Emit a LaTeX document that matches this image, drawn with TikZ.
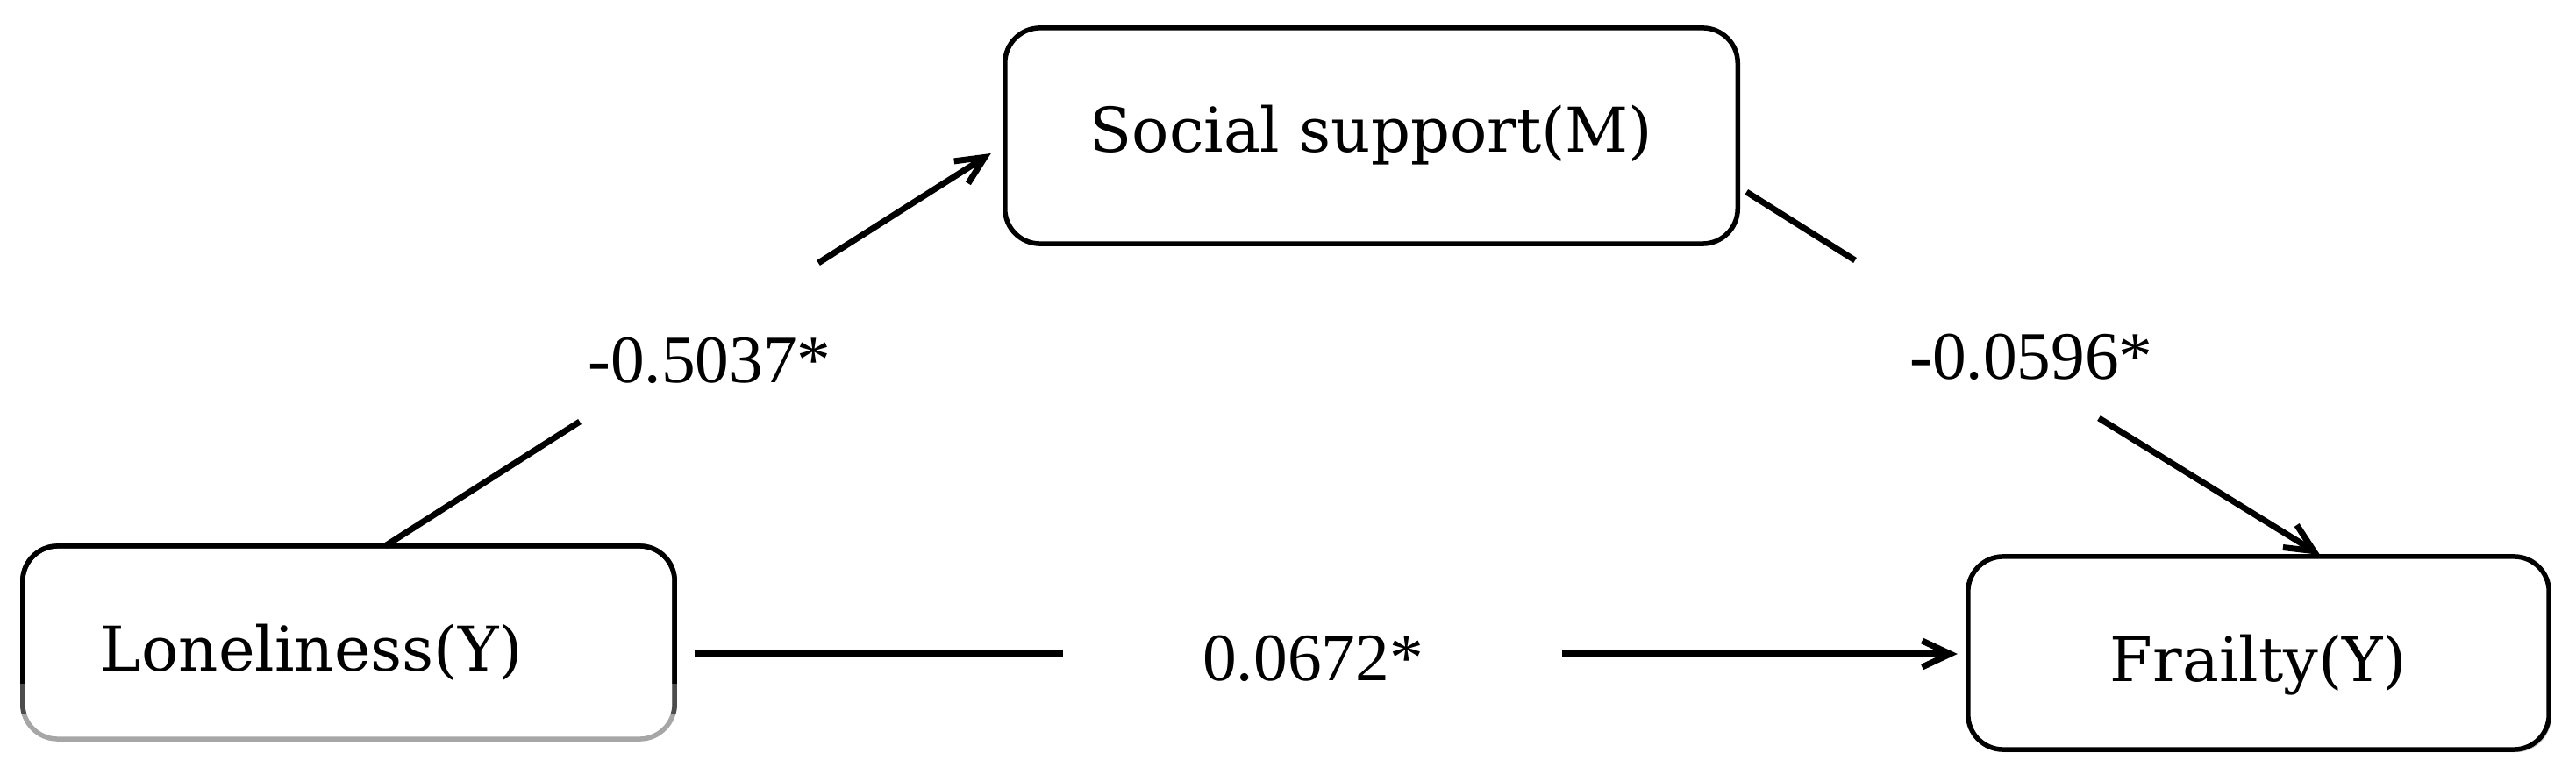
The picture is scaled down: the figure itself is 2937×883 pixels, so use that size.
\documentclass[tikz,border=0pt]{standalone}
\usepackage{fontspec}
\setmainfont{Liberation Serif}
\newfontfamily\boxfont{DejaVu Serif}
\usetikzlibrary{arrows.meta,shadows}

\begin{document}
\begin{tikzpicture}[x=0.01cm, y=-0.01cm,
  var/.style={draw, line width=0.055cm, rounded corners=0.4cm, inner sep=0pt, outer sep=0pt,
    text height=0.73cm, text depth=0.09cm,
    font=\boxfont\fontsize{20}{24}\selectfont},
  coef/.style={inner sep=0pt, font=\fontsize{22}{26}\selectfont},
  link/.style={line width=0.07cm},
  arr/.style={link, -{Straight Barb[length=0.32cm, width=0.3cm]}}]
\useasboundingbox (0,0) rectangle (2937,883);
% variables
\node [var, draw=black!35, minimum width=7.43cm, minimum height=2.2cm, inner xsep=0.89cm,
       text width=5.65cm, align=left] (lone) at (397.5,733) {Loneliness(Y)};
% darker upper part of its border
\begin{scope}
  \clip (0,0) rectangle (900,815);
  \draw [black!70, line width=0.055cm, rounded corners=0.4cm] (lone.south west) rectangle (lone.north east);
\end{scope}
\begin{scope}
  \clip (0,0) rectangle (900,780);
  \draw [line width=0.055cm, rounded corners=0.4cm] (lone.south west) rectangle (lone.north east);
\end{scope}
\node [var, minimum width=8.35cm, minimum height=2.46cm, text height=0.45cm] (ss) at (1563.5,155) {Social support(M)};
\node [var, minimum width=6.62cm, minimum height=2.2cm, fill=white,
       drop shadow={shadow xshift=0.025cm, shadow yshift=-0.03cm, fill=black!45}] (frail) at (2575,745) {Frailty(Y)};
% coefficients
\node [coef] (ab) at (809,411) {-0.5037*};
\node [coef] (bc) at (2316,407) {-0.0596*};
\node [coef] (ac) at (1497,751) {0.0672*};
% ends of the broken lines
\coordinate (ab1) at (661,481);
\coordinate (ab2) at (933,300);
\coordinate (bc1) at (2115,297);
\coordinate (bc2) at (2393,477);
\coordinate (ac1) at (1212,746);
\coordinate (ac2) at (1781,746);
\draw [link] ([xshift=0.415cm]lone.north) -- (ab1);
\draw [arr] (ab2) -- ([shift={(-16,20)}]ss.west);
\draw [link] ([shift={(10,64)}]ss.east) -- (bc1);
\draw [arr] (bc2) -- ([shift={(70,-2)}]frail.north);
\draw [link] ([shift={(23,13)}]lone.east) -- (ac1);
\draw [arr] (ac2) -- ([shift={(-12,1)}]frail.west);
\end{tikzpicture}
\end{document}
